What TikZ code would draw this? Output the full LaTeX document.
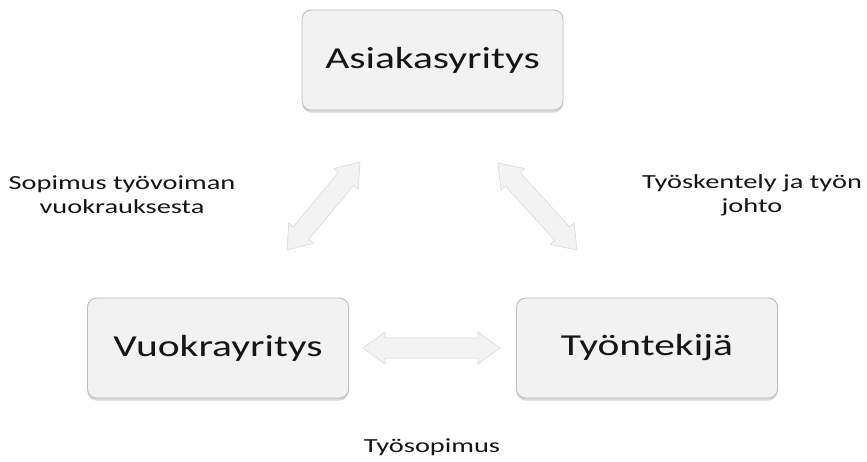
\documentclass[tikz,border=0pt]{standalone}
\usepackage{fontspec}
\setmainfont{Carlito}
\usetikzlibrary{calc,shadows}
\definecolor{boxfill}{HTML}{F2F2F2}
\definecolor{boxline}{HTML}{BDBDBD}
\definecolor{arrfill}{HTML}{F3F3F3}
\definecolor{arrline}{HTML}{DADADA}
\definecolor{txt}{HTML}{151515}
\newcommand\wide[1]{\scalebox{1.36}[1]{#1}}
\newcommand\widel[1]{\scalebox{1.42}[1]{#1}}
\newcommand\blockarr[2]{%
  \filldraw[arrowshape] (#1)
    -- ($(#1)!22pt!(#2)!16pt!90:(#2)$)
    -- ($(#1)!22pt!(#2)!10pt!90:(#2)$)
    -- ($(#2)!22pt!(#1)!10pt!-90:(#1)$)
    -- ($(#2)!22pt!(#1)!16pt!-90:(#1)$)
    -- (#2)
    -- ($(#2)!22pt!(#1)!16pt!90:(#1)$)
    -- ($(#2)!22pt!(#1)!10pt!90:(#1)$)
    -- ($(#1)!22pt!(#2)!10pt!-90:(#2)$)
    -- ($(#1)!22pt!(#2)!16pt!-90:(#2)$)
    -- cycle;}
\begin{document}
\begin{tikzpicture}[x=1pt,y=-1pt,
  entity/.style={draw=boxline, line width=0.9pt, fill=boxfill, rounded corners=9pt,
    minimum width=261pt, minimum height=100pt, inner sep=0pt, text=txt,
    font=\fontsize{30.5}{36}\selectfont,
    drop shadow={shadow xshift=0pt, shadow yshift=-2.5pt, opacity=0.25, fill=black!60}},
  lbl/.style={text=txt, font=\fontsize{20}{24}\selectfont, align=center, inner sep=0pt},
  arrowshape/.style={fill=arrfill, draw=arrline, line width=0.6pt, line join=miter}]
\useasboundingbox (0,0) rectangle (867,461);
\fill[white] (0,0) rectangle (867,461);
\node[entity] (asiakas) at (432.5,60) {\raisebox{-3pt}{\wide{Asiakasyritys}}};
\node[entity] (vuokra) at (218,348) {\raisebox{-3pt}{\wide{Vuokrayritys}}};
\node[entity] (tyontekija) at (647,348) {\raisebox{-3pt}{\wide{Työntekijä}}};
\coordinate (la1) at (287,250);
\coordinate (la2) at (360,162);
\coordinate (ra1) at (498,163);
\coordinate (ra2) at (577,250);
\coordinate (ha1) at (363,348);
\coordinate (ha2) at (500,348);
\blockarr{la1}{la2}
\blockarr{ra1}{ra2}
\blockarr{ha1}{ha2}
\node[lbl, anchor=base] (sop) at (122,213) {\widel{Sopimus työvoiman}\\\widel{vuokrauksesta}};
\node[lbl, anchor=base] (tyo) at (752,212) {\widel{Työskentely ja työn}\\\widel{johto}};
\node[lbl, anchor=base] (tsop) at (432,452) {\widel{Työsopimus}};
\end{tikzpicture}
\end{document}
